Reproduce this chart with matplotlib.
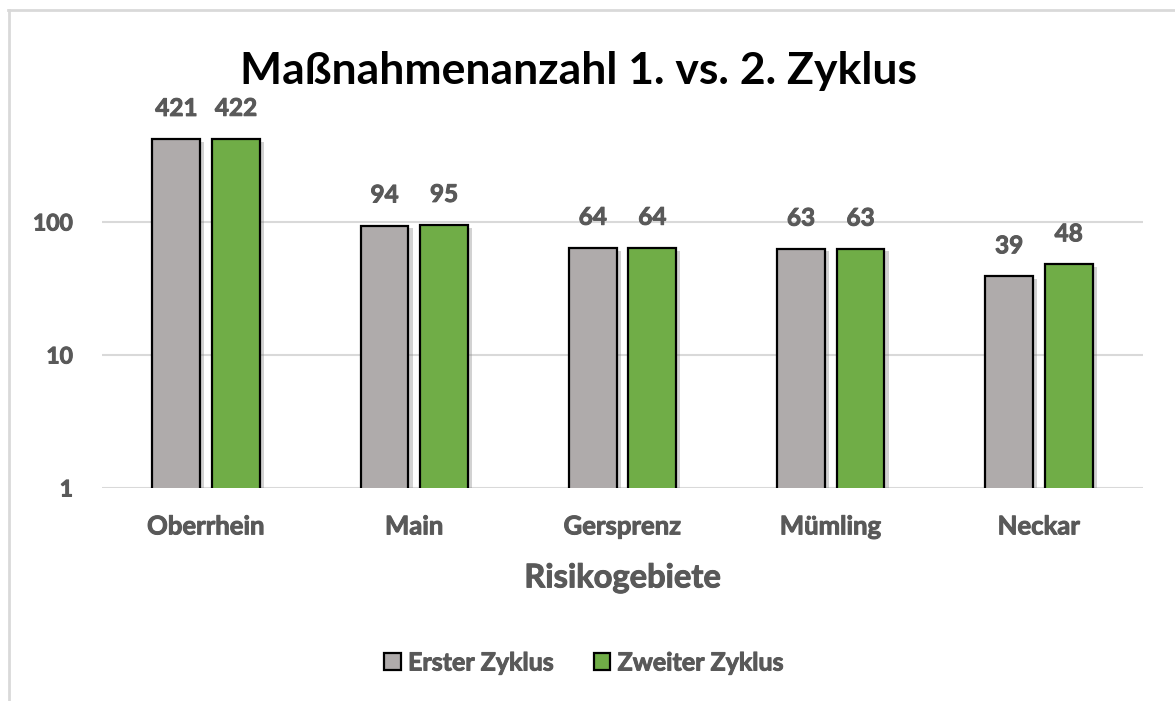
import os
import numpy as np
import matplotlib.pyplot as plt
import matplotlib.patheffects as pe
from matplotlib import font_manager as fm
from matplotlib.lines import Line2D
from matplotlib.patches import Patch

# Data
regions = ['Oberrhein', 'Main', 'Gersprenz', 'Mümling', 'Neckar']
first_cycle = [421, 94, 64, 63, 39]
second_cycle = [422, 95, 64, 63, 48]
series_names = ['Erster Zyklus', 'Zweiter Zyklus']
y_ticks = [1, 10, 100]

GRAY = '#afabab'
GREEN = '#70ad47'
TEXT = '#595959'
GRID = '#d9d9d9'


def find_bold_file():
    # look for a real bold face file, Lato first, then Noto Sans
    for stem in ('lato-bold.', 'notosans-bold.', 'opensans-bold.', 'liberationsans-bold.'):
        for f in fm.fontManager.ttflist:
            if os.path.basename(f.fname).lower().startswith(stem):
                return f.fname
    return None


BOLD_FILE = find_bold_file()


def bold_font(size):
    if BOLD_FILE:
        return fm.FontProperties(fname=BOLD_FILE, size=size)
    return fm.FontProperties(family='DejaVu Sans', weight='bold', size=size)


# slight stroke so the grey labels look as heavy as the original
heavy = [pe.withStroke(linewidth=0.7, foreground=TEXT)]

W, H = 1175, 701
fig = plt.figure(figsize=(W / 100, H / 100), dpi=100)
ax = fig.add_axes([102 / W, 1 - 488 / H, (1143 - 102) / W, (488 - 89) / H])

x = np.arange(len(regions))
offset = 0.143
width = 0.23
shadow = [pe.SimplePatchShadow(offset=(3, -2), shadow_rgbFace='#7f7f7f', alpha=0.35), pe.Normal()]

bars1 = ax.bar(x - offset, first_cycle, width, color=GRAY, edgecolor='black', linewidth=1.6,
               label=series_names[0], zorder=3)
bars2 = ax.bar(x + offset, second_cycle, width, color=GREEN, edgecolor='black', linewidth=1.6,
               label=series_names[1], zorder=3)
for b in list(bars1) + list(bars2):
    b.set_path_effects(shadow)

ax.set_yscale('log')
ax.set_ylim(1, 1000)
ax.set_xlim(-0.5, len(regions) - 0.5)
ax.set_yticks(y_ticks)
ax.set_yticklabels([str(t) for t in y_ticks])
ax.minorticks_off()
for t in y_ticks:
    ax.axhline(t, color=GRID, linewidth=1.5, zorder=1)

ax.set_xticks(x)
ax.set_xticklabels(regions)
ax.tick_params(axis='both', length=0, labelcolor=TEXT)
ax.tick_params(axis='x', pad=19)
ax.tick_params(axis='y', pad=21)
for lbl in ax.get_xticklabels():
    lbl.set_fontproperties(bold_font(18.5))
    lbl.set_path_effects(heavy)
for lbl in ax.get_yticklabels():
    lbl.set_fontproperties(bold_font(16.5))
    lbl.set_path_effects(heavy)
for s in ax.spines.values():
    s.set_visible(False)

# value labels above bars
for bars, vals in ((bars1, first_cycle), (bars2, second_cycle)):
    for b, v in zip(bars, vals):
        ax.annotate(str(v), (b.get_x() + b.get_width() / 2, v), xytext=(0, 22),
                    textcoords='offset points', ha='center', va='center',
                    fontproperties=bold_font(17.5), color=TEXT, path_effects=heavy)

xl = ax.set_xlabel('Risikogebiete', fontproperties=bold_font(23.5), color=TEXT, labelpad=18)
xl.set_path_effects(heavy)

fig.text(578 / W, 1 - 71 / H, 'Maßnahmenanzahl 1. vs. 2. Zyklus', ha='center', va='center',
         fontproperties=bold_font(32), color='black')

handles = [Patch(facecolor=GRAY, edgecolor='black', linewidth=1.6),
           Patch(facecolor=GREEN, edgecolor='black', linewidth=1.6)]
leg = fig.legend(handles, series_names, loc='center', bbox_to_anchor=(584 / W, 1 - 663 / H),
                 ncol=2, frameon=False, prop=bold_font(18), handlelength=0.65, handleheight=0.65,
                 handletextpad=0.3, columnspacing=1.6)
for t in leg.get_texts():
    t.set_color(TEXT)
    t.set_path_effects(heavy)

# chart frame (top and left edges visible)
fig.add_artist(Line2D([8 / W, 1], [1 - 10 / H, 1 - 10 / H], color=GRID, linewidth=2))
fig.add_artist(Line2D([9 / W, 9 / W], [0, 1 - 10 / H], color=GRID, linewidth=2))

fig.savefig('out.png', dpi=100)
